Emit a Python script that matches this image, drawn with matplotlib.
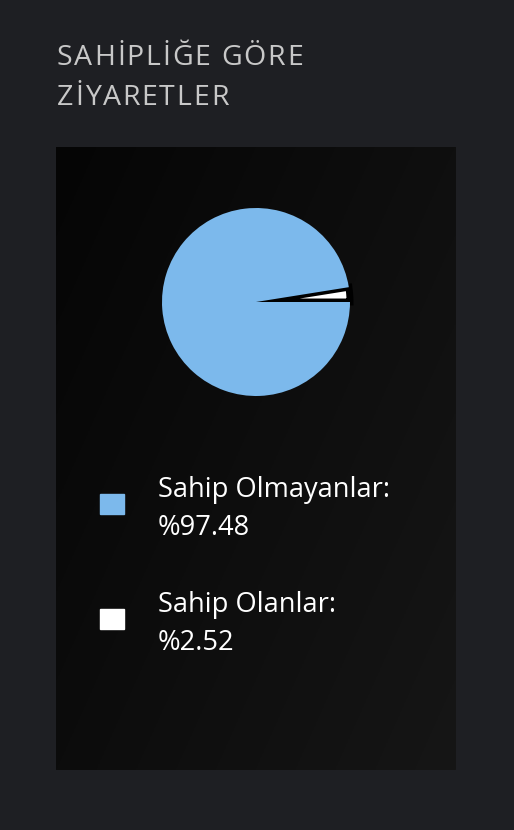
import numpy as np
import matplotlib
matplotlib.use("Agg")
import matplotlib.pyplot as plt
from matplotlib.patches import Rectangle

# data
labels = ["Sahip Olmayanlar", "Sahip Olanlar"]
shares = [97.48, 2.52]
colors = ["#7cb9ec", "#ffffff"]
title_lines = ["SAHİPLİĞE GÖRE", "ZİYARETLER"]

W, H = 514, 830
plt.rcParams["font.family"] = ["Open Sans", "DejaVu Sans"]

fig = plt.figure(figsize=(W / 100, H / 100), dpi=100)
fig.patch.set_facecolor("#1e1f23")


def fr(x0, y0, x1, y1):
    # pixel box (top-left origin) -> figure fraction rect
    return [x0 / W, 1 - y1 / H, (x1 - x0) / W, (y1 - y0) / H]


# dark panel with a soft diagonal gradient
bg = fig.add_axes(fr(56, 147, 456, 770))
gx, gy = np.meshgrid(np.linspace(0, 1, 200), np.linspace(0, 1, 300))
shade = (5 + 10 * gx + 7 * gy) / 255
bg.imshow(np.dstack([shade, shade, shade]), aspect="auto", extent=[0, 1, 1, 0])
bg.set_axis_off()

# title with letter spacing
renderer = fig.canvas.get_renderer()


def spaced(x, y, s, gap, **kw):
    for ch in s:
        if ch == " ":
            x += 7 + gap
            continue
        t = fig.text(x / W, 1 - y / H, ch, **kw)
        x += t.get_window_extent(renderer).width + gap


for i, line in enumerate(title_lines):
    spaced(57, 65 + 40 * i, line, 1.8, color="#c8c8c8", fontsize=20.5)

# pie
pax = fig.add_axes(fr(162, 208, 350, 396))
wedges, _ = pax.pie(shares, colors=colors, startangle=0, counterclock=False,
                    radius=1.0)
wedges[1].set_edgecolor("#000000")
wedges[1].set_linewidth(5)
wedges[1].set_zorder(1)
wedges[0].set_zorder(2)
pax.set_xlim(-1, 1)
pax.set_ylim(-1, 1)
pax.set_axis_off()

# legend
for i, (lab, val, c) in enumerate(zip(labels, shares, colors)):
    top = 494 + 115 * i
    fig.patches.append(Rectangle((100 / W, 1 - (top + 20) / H), 24 / W, 20 / H,
                                 transform=fig.transFigure, color=c))
    fig.text(158 / W, 1 - (497 + 115 * i) / H, f"{lab}:", color="white",
             fontsize=19.6)
    fig.text(158 / W, 1 - (535 + 115 * i) / H, f"%{val:.2f}", color="white",
             fontsize=19.6)

fig.savefig("out.png", dpi=100, facecolor=fig.get_facecolor())
